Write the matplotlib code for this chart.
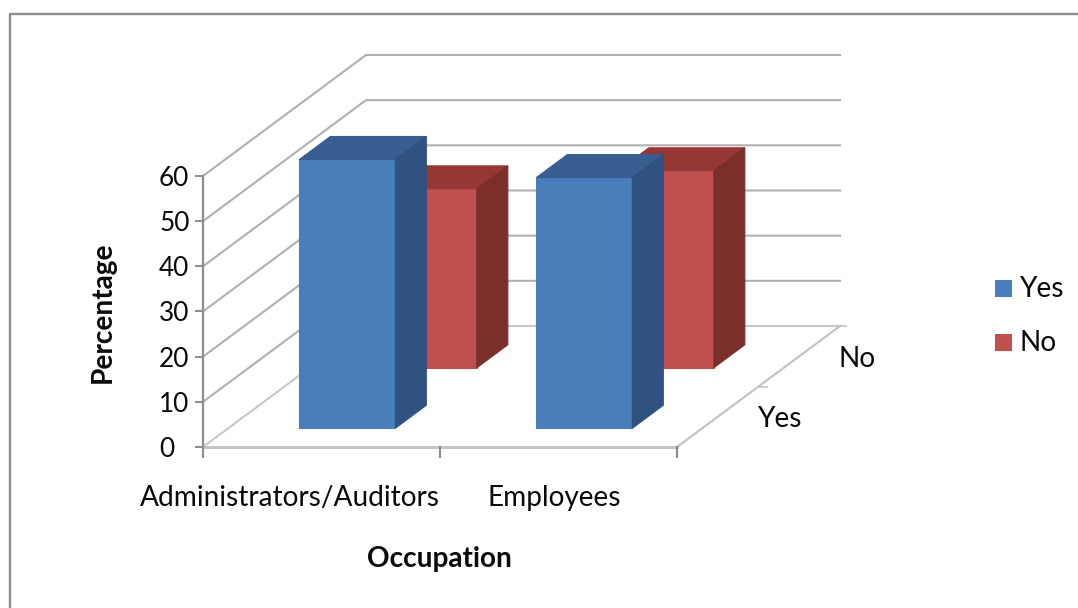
import matplotlib
matplotlib.use("Agg")
import matplotlib.pyplot as plt
from matplotlib.patches import Polygon, Rectangle

plt.rcParams["font.family"] = ["Lato", "DejaVu Sans"]

categories = ["Administrators/Auditors", "Employees"]
series = ["Yes", "No"]
yes_values = [59.5, 55.5]
no_values = [39.6, 43.6]
y_ticks = [0, 10, 20, 30, 40, 50, 60]

W, H = 1078, 608
FONT = 20.2
TICK_FONT = 18.8
GRID = "#b0b0b0"
AXIS = "#8e8e8e"
colors = {
    "Yes": ("#4a7ebb", "#375e8e", "#2f5280"),
    "No": ("#c0504d", "#953735", "#7c2e2b"),
}

# one data unit: a category on x, a percent on y
PX_X = 237.0
PX_Y = 4.517
X0, Y0 = 203.0, 447.0
# shift per row of depth, in data units
DX = 81.5 / PX_X
DY = 60.5 / PX_Y


def proj(x, y, d):
    return x + d * DX, y + d * DY


def px_text(x, y, s, **kw):
    return fig.text(x / W, 1 - y / H, s, color="#0a0a0a", va="center", **kw)


fig = plt.figure(figsize=(W / 100, H / 100), dpi=100)
ax = fig.add_axes([0, 0, 1, 1])
ax.set_xlim(-X0 / PX_X, (W - X0) / PX_X)
ax.set_ylim((Y0 - H) / PX_Y, Y0 / PX_Y)
ax.axis("off")

# the frame only shows on the top and left
fig.add_artist(plt.Line2D([9.5 / W, 9.5 / W, 1], [0, 1 - 13.5 / H, 1 - 13.5 / H],
                          color=AXIS, lw=1.7, transform=fig.transFigure))

depth = len(series)
width = len(categories)
for v in y_ticks:
    x1, y1 = proj(0, v, depth)
    x2, y2 = proj(width, v, depth)
    color = "#c8c8c8" if v == 0 else GRID
    ax.plot([0, x1, x2], [v, y1, y2], color=color, lw=1.5, solid_joinstyle="round", zorder=1)
    ax.plot([-7 / PX_X, 0], [v, v], color=AXIS, lw=1.5, zorder=2)
    px_text(159, Y0 - v * PX_Y + 2.5, str(v), fontsize=TICK_FONT, ha="left")

# walls and floor edges
ax.plot([0, 0], [0, y_ticks[-1]], color=AXIS, lw=1.6, zorder=2)
ax.plot([0, width], [0, 0], color="#c4c4c4", lw=2.2, zorder=1)
xe, ye = proj(width, 0, depth)
ax.plot([width, xe], [0, ye], color="#c4c4c4", lw=1.6, zorder=1)
for i in range(width + 1):
    ax.plot([i, i], [0, -10 / PX_Y], color=AXIS, lw=1.5, zorder=2)
xm, ym = proj(width, 0, 1)
ax.plot([xm, xm + 8 / PX_X], [ym, ym], color="#c4c4c4", lw=1.2, zorder=1)
ax.plot([xe, xe + 6 / PX_X], [ye, ye], color="#c4c4c4", lw=1.2, zorder=1)


def bar3d(x0, x1, d0, d1, h, cols, z):
    front, top, side = cols
    faces = [
        ([(x0, 0, d0), (x1, 0, d0), (x1, h, d0), (x0, h, d0)], front),
        ([(x0, h, d0), (x1, h, d0), (x1, h, d1), (x0, h, d1)], top),
        ([(x1, 0, d0), (x1, 0, d1), (x1, h, d1), (x1, h, d0)], side),
    ]
    for pts, c in faces:
        ax.add_patch(Polygon([proj(*p) for p in pts], closed=True, fc=c, ec=c, lw=0.8, zorder=z))


# back row first so the front row covers it
for row, (name, vals) in reversed(list(enumerate(zip(series, [yes_values, no_values])))):
    for i, v in enumerate(vals):
        bar3d(i + 0.30, i + 0.705, row + 0.31, row + 0.69, v, colors[name], 5 - row + i * 0.1)

# labels
px_text(290, 498, categories[0], fontsize=FONT, ha="center")
px_text(554, 498, categories[1], fontsize=FONT, ha="center")
px_text(780, 419, series[0], fontsize=FONT, ha="center")
px_text(857, 359, series[1], fontsize=FONT, ha="center")
px_text(439, 559, "Occupation", fontsize=FONT, fontweight="bold", ha="center")
px_text(103, 312, "Percentage", fontsize=FONT, fontweight="bold", ha="center", rotation=90)

# legend
for name, y in zip(series, [288, 342]):
    fig.add_artist(Rectangle((995 / W, 1 - (y + 9) / H), 17 / W, 17 / H, fc=colors[name][0], ec="none",
                             transform=fig.transFigure))
    px_text(1020, y + 1, name, fontsize=FONT, ha="left")

fig.savefig("out.png", dpi=100)
